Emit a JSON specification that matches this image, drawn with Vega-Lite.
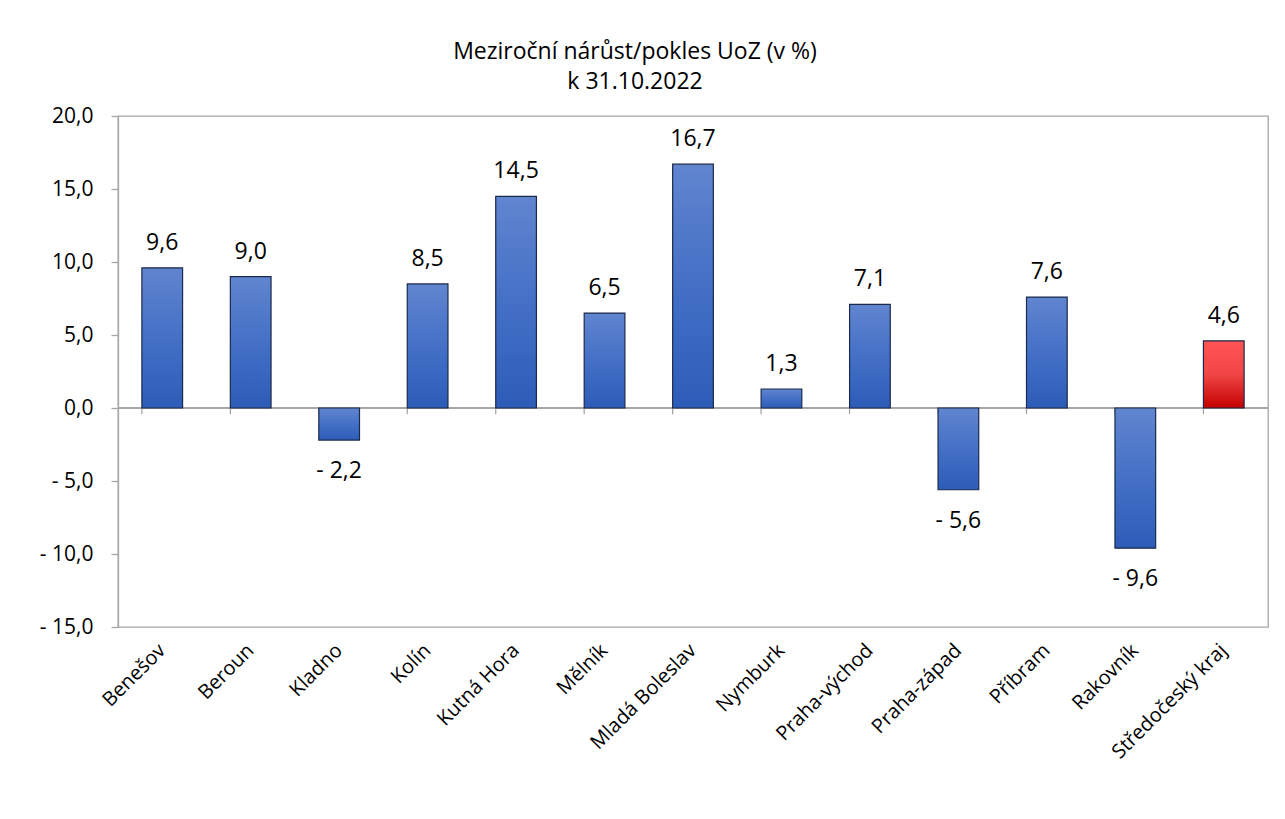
{
  "$schema": "https://vega.github.io/schema/vega-lite/v6.json",
  "autosize": {"type": "none"},
  "width": 1150,
  "height": 511,
  "padding": {"left": 118, "top": 116, "right": 17, "bottom": 192},
  "background": "white",
  "config": {
    "font": "Open Sans",
    "view": {"stroke": "#A6A6A6", "strokeWidth": 1.3},
    "locale": {
      "number": {"decimal": ",", "thousands": " ", "grouping": [3], "currency": ["", ""], "minus": "- "}
    }
  },
  "title": {
    "text": ["Meziroční nárůst/pokles UoZ (v %)", "k 31.10.2022"],
    "fontSize": 23,
    "fontWeight": "normal",
    "color": "#000000",
    "lineHeight": 30,
    "anchor": "middle",
    "frame": "group",
    "dx": -58,
    "baseline": "alphabetic",
    "offset": -7
  },
  "data": {
    "values": [
      {"okres": "Benešov", "v": 9.6},
      {"okres": "Beroun", "v": 9.0},
      {"okres": "Kladno", "v": -2.2},
      {"okres": "Kolín", "v": 8.5},
      {"okres": "Kutná Hora", "v": 14.5},
      {"okres": "Mělník", "v": 6.5},
      {"okres": "Mladá Boleslav", "v": 16.7},
      {"okres": "Nymburk", "v": 1.3},
      {"okres": "Praha-východ", "v": 7.1},
      {"okres": "Praha-západ", "v": -5.6},
      {"okres": "Příbram", "v": 7.6},
      {"okres": "Rakovník", "v": -9.6},
      {"okres": "Středočeský kraj", "v": 4.6}
    ]
  },
  "encoding": {
    "x": {
      "field": "okres",
      "type": "nominal",
      "sort": null,
      "scale": {"paddingInner": 0.54, "paddingOuter": 0.27},
      "axis": {
        "title": null,
        "labelAngle": -45,
        "labelAlign": "right",
        "labelBaseline": "middle",
        "labelFontSize": 20,
        "labelColor": "#000000",
        "labelPadding": 20,
        "ticks": false,
        "domain": false
      }
    }
  },
  "layer": [
    {
      "mark": {"type": "rule", "color": "#A6A6A6", "strokeWidth": 1.3},
      "encoding": {"x": null, "y": {"datum": 0}}
    },
    {
      "mark": {"type": "rule", "color": "#A6A6A6", "strokeWidth": 1.3},
      "encoding": {
        "x": {"field": "okres", "type": "nominal", "sort": null, "bandPosition": 0},
        "y": {"datum": 0},
        "y2": {"datum": -0.42}
      }
    },
    {
      "mark": {"type": "bar", "stroke": "#1B2A4A", "strokeWidth": 1.2},
      "encoding": {
        "y": {
          "field": "v",
          "type": "quantitative",
          "scale": {"domain": [-15, 20], "nice": false, "zero": false},
          "axis": {
            "title": null,
            "values": [-15, -10, -5, 0, 5, 10, 15, 20],
            "format": ".1f",
            "grid": false,
            "labelFontSize": 21,
            "labelColor": "#000000",
            "tickSize": 7,
            "tickColor": "#A6A6A6",
            "domainColor": "#A6A6A6",
            "tickWidth": 1.3,
            "domainWidth": 1.3,
            "labelPadding": 18
          }
        },
        "y2": {"datum": 0},
        "color": {
          "condition": {
            "test": "datum.okres === 'Středočeský kraj'",
            "value": {
              "gradient": "linear", "x1": 0, "y1": 0, "x2": 0, "y2": 1,
              "stops": [
                {"offset": 0, "color": "#FF5454"},
                {"offset": 0.5, "color": "#F04646"},
                {"offset": 1, "color": "#C40000"}
              ]
            }
          },
          "value": {
            "gradient": "linear", "x1": 0, "y1": 0, "x2": 0, "y2": 1,
            "stops": [
              {"offset": 0, "color": "#6185CF"},
              {"offset": 0.5, "color": "#4470C6"},
              {"offset": 1, "color": "#2D5CB8"}
            ]
          }
        }
      }
    },
    {
      "transform": [{"filter": "datum.v >= 0"}],
      "mark": {"type": "text", "fontSize": 23, "color": "#000000", "baseline": "alphabetic", "align": "center", "dy": -18},
      "encoding": {
        "y": {"field": "v", "type": "quantitative"},
        "text": {"field": "v", "type": "quantitative", "format": ".1f"}
      }
    },
    {
      "transform": [{"filter": "datum.v < 0"}],
      "mark": {"type": "text", "fontSize": 23, "color": "#000000", "baseline": "alphabetic", "align": "center", "dy": 38},
      "encoding": {
        "y": {"field": "v", "type": "quantitative"},
        "text": {"field": "v", "type": "quantitative", "format": ".1f"}
      }
    }
  ]
}
